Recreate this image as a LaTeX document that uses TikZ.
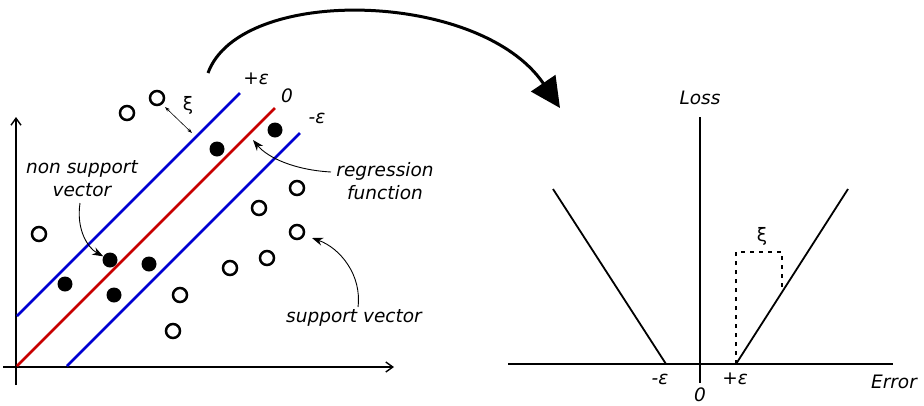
\documentclass[tikz,border=0pt]{standalone}
\usepackage{fontspec}
\setmainfont{DejaVu Sans}
\usetikzlibrary{arrows.meta}
\definecolor{epsblue}{RGB}{0,0,210}
\definecolor{regred}{RGB}{200,0,0}
\begin{document}
\begin{tikzpicture}[x=1pt,y=-1pt,
  lbl/.style={font=\fontsize{18.5}{23}\selectfont\itshape, inner sep=0pt, align=center},
  ulbl/.style={font=\fontsize{18.5}{23}\selectfont, inner sep=0pt},
  axis/.style={line width=1.3pt},
  axisarrow/.style={line width=1.4pt,-{Straight Barb[length=7pt,width=10pt]}},
  open/.style={circle, draw=black, line width=2.5pt, minimum size=14pt, inner sep=0pt, fill=white},
  full/.style={circle, fill=black, minimum size=15pt, inner sep=0pt},
  bline/.style={draw=epsblue, line width=2.5pt},
  rline/.style={draw=regred, line width=2.5pt},
  pointer/.style={line width=0.9pt,-{Stealth[length=11pt,width=8pt]}},
  loss/.style={line width=1.8pt}]
\useasboundingbox (0,0) rectangle (924,405);

% ---------- left plot ----------
\coordinate (xa0) at (3,367);
\coordinate (xa1) at (394,367);
\coordinate (ya0) at (16,385);
\coordinate (ya1) at (16,117);
\draw[axisarrow] (xa0) -- (xa1);
\draw[axisarrow] (ya0) -- (ya1);

\coordinate (pe0) at (17,316);
\coordinate (pe1) at (240,93);
\coordinate (re0) at (17,366);
\coordinate (re1) at (275,108);
\coordinate (me0) at (67,366);
\coordinate (me1) at (300,133);
\draw[bline] (pe0) -- (pe1);
\draw[rline] (re0) -- (re1);
\draw[bline] (me0) -- (me1);

\node[lbl] (lpe) at (256,79) {+ε};
\node[lbl] (lz) at (287,96) {0};
\node[lbl] (lme) at (317,118) {-ε};

% open circles
\node[open] (o1) at (157,98) {};
\node[open] (o2) at (127,113) {};
\node[open] (o3) at (39,234) {};
\node[open] (o4) at (297,188) {};
\node[open] (o5) at (259,208) {};
\node[open] (o6) at (297,232) {};
\node[open] (o7) at (267,258) {};
\node[open] (o8) at (230,268) {};
\node[open] (o9) at (180,295) {};
\node[open] (o10) at (173,331) {};

% filled dots
\node[full] (f1) at (217,149) {};
\node[full] (f2) at (275,130) {};
\node[full] (f3) at (110,260) {};
\node[full] (f4) at (149,264) {};
\node[full] (f5) at (65,284) {};
\node[full] (f6) at (114,295) {};

% xi arrow
\coordinate (xiA) at (165,107);
\coordinate (xiB) at (192,133);
\draw[line width=0.6pt,{Stealth[length=5pt,width=3.5pt]}-{Stealth[length=5pt,width=3.5pt]}] (xiA) -- (xiB);
\node[ulbl] (xil) at (188,105) {ξ};

% labels
\node[lbl] (nsv) at (82,179) {non support\\vector};
\node[lbl] (rf) at (385,181) {regression\\function};
\node[lbl] (sv) at (354,318) {support vector};

\coordinate (nsvS) at (80,203);
\draw[pointer] (nsvS) .. controls (76,230) and (88,248) .. (f3);
\coordinate (rfS) at (331,172);
\coordinate (rfT) at (253,140);
\draw[pointer] (rfS) .. controls (295,170) and (268,158) .. (rfT);
\coordinate (svS) at (358,307);
\coordinate (svT) at (312,238);
\draw[pointer] (svS) .. controls (362,275) and (340,248) .. (svT);

% ---------- big arrow ----------
\coordinate (bigS) at (208,73);
\coordinate (bigT) at (560,108);
\draw[line width=3pt,-{Triangle[length=30pt,width=29pt]}] (bigS) .. controls (240,-15) and (480,-10) .. (bigT);

% ---------- right plot ----------
\coordinate (rx0) at (508,364);
\coordinate (rx1) at (893,364);
\coordinate (ry0) at (700,117);
\coordinate (ry1) at (700,383);
\draw[axis] (rx0) -- (rx1);
\draw[axis] (ry0) -- (ry1);

\coordinate (ll0) at (553,189);
\coordinate (ll1) at (666,364);
\coordinate (rl0) at (736,364);
\coordinate (rl1) at (848,189);
\draw[loss] (ll0) -- (ll1);
\draw[loss] (rl0) -- (rl1);

\coordinate (d1) at (736,252);
\coordinate (d2) at (782,252);
\coordinate (d3) at (782,291);
\draw[line width=2.8pt, dash pattern=on 4pt off 5pt] (rl0) -- (d1) -- (d2) -- (d3);

\node[ulbl] (rxi) at (762,236) {ξ};
\node[lbl] (rloss) at (700,98) {Loss};
\node[lbl] (rerr) at (894,382) {Error};
\node[lbl] (rme) at (660,379) {-ε};
\node[lbl] (rpe) at (735,379) {+ε};
\node[lbl] (rz) at (700,395) {0};
\end{tikzpicture}
\end{document}
